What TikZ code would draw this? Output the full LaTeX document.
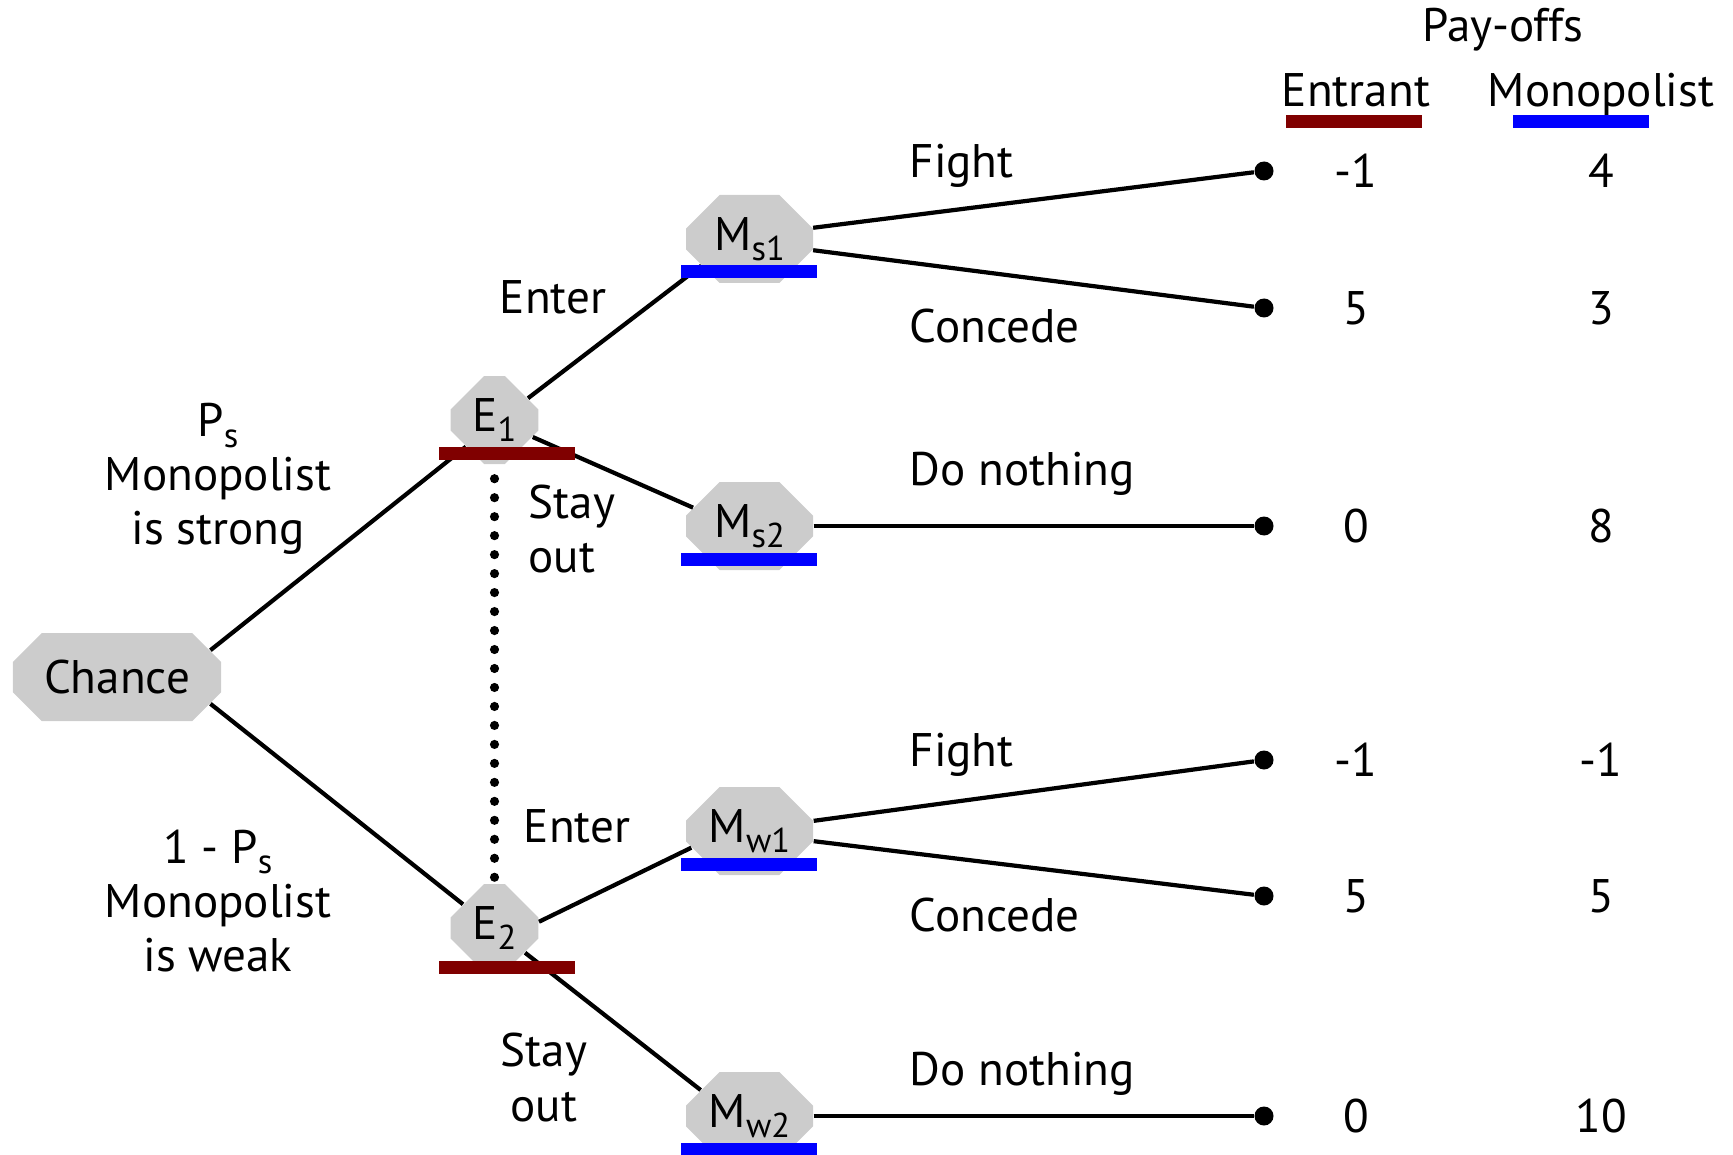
\documentclass[tikz,border=0pt]{standalone}
\usepackage{fontspec}
\setmainfont{PT Sans}
\usetikzlibrary{shapes.misc}
\usetikzlibrary{positioning}

\definecolor{entcol}{RGB}{128,0,0}
\definecolor{moncol}{RGB}{0,0,255}
\definecolor{nodecol}{RGB}{204,204,204}

\newcommand{\lowidx}[1]{\raisebox{-3pt}{\fontsize{9.8}{9.8}\selectfont #1}}

\tikzset{
  player/.style={chamfered rectangle, chamfered rectangle xsep=0.25cm, fill=nodecol, inner sep=0pt, minimum height=0.88cm},
  term/.style={circle, fill=black, inner sep=0pt, minimum size=0.19cm},
  lbl/.style={inner sep=0pt},
  branch/.style={line width=1.2pt},
  infoset/.style={line width=2.6pt, line cap=round, dash pattern=on 0pt off 5.4pt},
}

\begin{document}
\begin{tikzpicture}[font=\fontsize{13.4}{15.4}\selectfont]
        \useasboundingbox (0,0) rectangle (17.33,11.54);

        \node[player, minimum width=2.08cm] (chance) at (1.17,4.77) {Chance};
        \node[player, minimum width=0.87cm] (e1) at (4.945,7.34) {E\lowidx{1}};
        \node[player, minimum width=0.87cm] (e2) at (4.945,2.26) {E\lowidx{2}};
        \node[player, minimum width=1.27cm] (ms1) at (7.495,9.15) {M\lowidx{s1}};
        \node[player, minimum width=1.27cm] (ms2) at (7.495,6.28) {M\lowidx{s2}};
        \node[player, minimum width=1.27cm] (mw1) at (7.495,3.23) {M\lowidx{w1}};
        \node[player, minimum width=1.27cm] (mw2) at (7.495,0.38) {M\lowidx{w2}};

        \node[term] (t1) at (12.64,9.83) {};
        \node[term] (t2) at (12.64,8.46) {};
        \node[term] (t3) at (12.64,6.28) {};
        \node[term] (t4) at (12.64,3.94) {};
        \node[term] (t5) at (12.64,2.58) {};
        \node[term] (t6) at (12.64,0.38) {};

        % pay-off table
        \node[lbl] (pay) at (15.03,11.246) {Pay-offs};
        \node[lbl, anchor=base] (ent) at (13.56,10.47) {Entrant};
        \node[lbl, anchor=base] (mon) at (16.01,10.47) {Monopolist};
        \node[lbl] (p1e) at (ent |- t1) {-1};
        \node[lbl] (p1m) at (mon |- t1) {4};
        \node[lbl] (p2e) at (ent |- t2) {5};
        \node[lbl] (p2m) at (mon |- t2) {3};
        \node[lbl] (p3e) at (ent |- t3) {0};
        \node[lbl] (p3m) at (mon |- t3) {8};
        \node[lbl] (p4e) at (ent |- t4) {-1};
        \node[lbl] (p4m) at (mon |- t4) {-1};
        \node[lbl] (p5e) at (ent |- t5) {5};
        \node[lbl] (p5m) at (mon |- t5) {5};
        \node[lbl] (p6e) at (ent |- t6) {0};
        \node[lbl] (p6m) at (mon |- t6) {10};

        \node[lbl, align=center] (strong) at (2.18,6.75) {P\lowidx{s}\\Monopolist\\is strong};
        \node[lbl, align=center] (weak) at (2.18,2.53) {1 - P\lowidx{s}\\Monopolist\\is weak};
        \node[lbl, anchor=base] (enter1) at (5.53,8.405) {Enter};
        \node[lbl, anchor=west, align=left] (stay1) at (5.28,6.25) {Stay\\out};
        \node[lbl, anchor=base] (enter2) at (5.77,3.115) {Enter};
        \node[lbl, align=center] (stay2) at (5.44,0.765) {Stay\\out};
        \node[lbl, anchor=base west] (fight1) at (9.09,9.76) {Fight};
        \node[lbl, anchor=base west] (conc1) at (9.09,8.11) {Concede};
        \node[lbl, anchor=base west] (none1) at (9.09,6.685) {Do nothing};
        \node[lbl, anchor=base west] (fight2) at (9.09,3.88) {Fight};
        \node[lbl, anchor=base west] (conc2) at (9.09,2.23) {Concede};
        \node[lbl, anchor=base west] (none2) at (9.09,0.685) {Do nothing};

        \draw[branch] (chance.16) -- (e1.223);
        \draw[branch] (chance.-16) -- (e2.143);
        \draw[branch] (e1.33) -- (ms1.209);
        \draw[branch] (e1.-24) -- (ms2.162);
        \draw[branch] (e2.8) -- (mw1.196);
        \draw[branch] (e2.-39) -- (mw2.152);
        \draw[branch] (ms1.10) -- (t1);
        \draw[branch] (ms1.-10) -- (t2);
        \draw[branch] (ms2.east) -- (t3);
        \draw[branch] (mw1.9) -- (t4);
        \draw[branch] (mw1.-9) -- (t5);
        \draw[branch] (mw2.east) -- (t6);
        \draw[infoset, shorten <=0.14cm] (e1.south) -- (e2.north);

        % who moves
        \fill[entcol] ([shift={(-0.555,-0.40)}]e1.center) rectangle ++(1.36,0.13);
        \fill[entcol] ([shift={(-0.555,-0.46)}]e2.center) rectangle ++(1.36,0.13);
        \foreach \m in {ms1,ms2,mw1,mw2}
            \fill[moncol] ([shift={(-0.69,-0.395)}]\m.center) rectangle ++(1.36,0.13);
        \fill[entcol] ([shift={(-0.70,-0.215)}]ent.base) rectangle ++(1.36,0.13);
        \fill[moncol] ([shift={(-0.88,-0.215)}]mon.base) rectangle ++(1.36,0.13);
\end{tikzpicture}
\end{document}
